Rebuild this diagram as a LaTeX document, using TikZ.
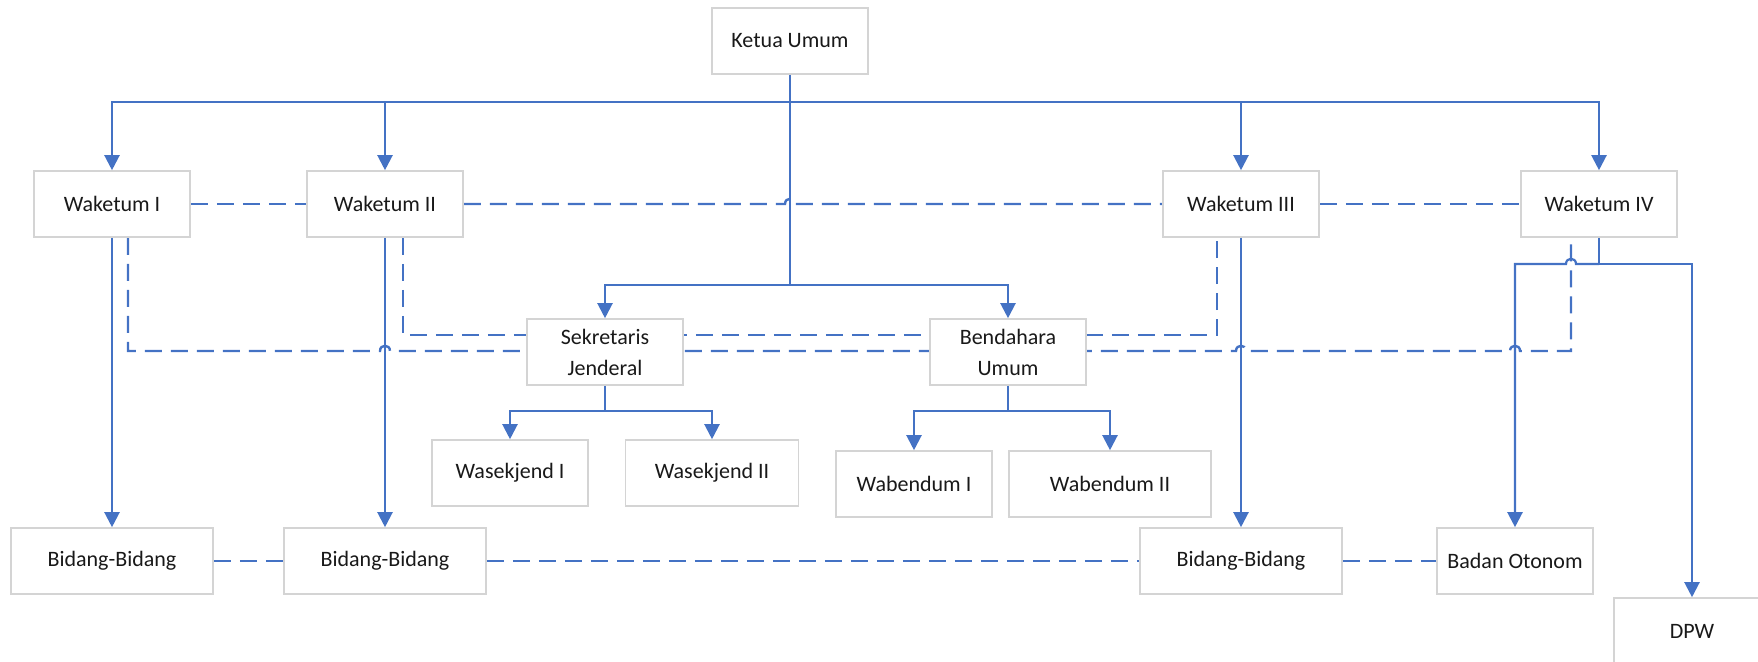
\documentclass[tikz,border=0pt]{standalone}
\usepackage{fontspec}
\setmainfont{Carlito}
\usetikzlibrary{arrows.meta,backgrounds}
\definecolor{orgblue}{HTML}{4472C4}
\definecolor{orggray}{HTML}{D4D4D4}
\tikzset{
  unit/.style={draw=orggray, fill=white, line width=0.8pt, minimum width=78pt, minimum height=33pt,
    inner sep=2pt, align=center, font=\fontsize{11}{15.5}\selectfont, text=black!90},
  wideunit/.style={unit, minimum width=101pt},
  link/.style={orgblue, line width=1.1pt},
  arrowlink/.style={link, -{Triangle[width=7.5pt,length=7.5pt]}},
  dashlink/.style={orgblue, line width=1.2pt, dash pattern=on 8.5pt off 4.5pt},
}
\begin{document}
\begin{tikzpicture}[x=0.5pt,y=-0.5pt]
\useasboundingbox (0,0) rectangle (1758,662);
\clip (0,0) rectangle (1758,662);
% boxes
\node[unit] (ketua) at (790,41) {Ketua Umum};
\node[unit] (wk1) at (112,204) {Waketum I};
\node[unit] (wk2) at (385,204) {Waketum II};
\node[unit] (wk3) at (1241,204) {Waketum III};
\node[unit] (wk4) at (1599,204) {Waketum IV};
\node[unit] (sekjen) at (605,352) {Sekretaris\\Jenderal};
\node[unit] (bendum) at (1008,352) {Bendahara\\Umum};
\node[unit] (wsk1) at (510,473) {Wasekjend I};
\node[unit, minimum width=86.5pt] (wsk2) at (712,473) {Wasekjend II};
\node[unit] (wbd1) at (914,484) {Wabendum I};
\node[wideunit] (wbd2) at (1110,484) {Wabendum II};
\node[wideunit] (bid1) at (112,561) {Bidang-Bidang};
\node[wideunit] (bid2) at (385,561) {Bidang-Bidang};
\node[wideunit] (bid3) at (1241,561) {Bidang-Bidang};
\node[unit] (bo) at (1515,561) {Badan Otonom};
\node[unit] (dpw) at (1692,631) {DPW};

% garis komando
\coordinate (bus) at (790,102);
\coordinate (mid) at (790,285);
\draw[link] (ketua) -- (mid);
\draw[arrowlink] (bus) -| (wk1);
\draw[arrowlink] (bus) -| (wk2);
\draw[arrowlink] (bus) -| (wk3);
\draw[arrowlink] (bus) -| (wk4);
\draw[arrowlink] (mid) -| (sekjen);
\draw[arrowlink] (mid) -| (bendum);
\coordinate (sjbus) at (605,411);
\draw[link] (sekjen) -- (sjbus);
\draw[arrowlink] (sjbus) -| (wsk1);
\draw[arrowlink] (sjbus) -| (wsk2);
\coordinate (bdbus) at (1008,411);
\draw[link] (bendum) -- (bdbus);
\draw[arrowlink] (bdbus) -| (wbd1);
\draw[arrowlink] (bdbus) -| (wbd2);
\draw[arrowlink] (wk1) -- (bid1);
\draw[arrowlink] (wk2) -- (bid2);
\draw[arrowlink] (wk3) -- (bid3);
\coordinate (wk4bus) at (1599,264);
\draw[link] (wk4) -- (wk4bus);
\draw[arrowlink] (wk4bus) -- (1576,264) .. controls +(0,-7) and +(0,-7) .. (1566,264)
  -- (1515,264) -- (bo);
\draw[arrowlink] (wk4bus) -| (dpw);

% garis koordinasi
\begin{scope}[on background layer]
\draw[dashlink] (wk1) -- (wk2);
\draw[dashlink] (wk2) -- (785,204) .. controls +(0,-7) and +(0,-7) .. (795,204) -- (wk3);
\draw[dashlink] (wk3) -- (wk4);
\draw[dashlink] ([xshift=9pt]wk2.south) |- (1217,335) -- ([xshift=-12pt]wk3.south);
\draw[dashlink] ([xshift=8pt]wk1.south) |- (380,351)
  .. controls +(0,-7) and +(0,-7) .. (390,351) -- (1236,351)
  .. controls +(0,-7) and +(0,-7) .. (1246,351) -- (1510,351)
  .. controls +(0,-7) and +(0,-7) .. (1520,351) -- (1571,351) -- ([xshift=-14pt]wk4.south);
\draw[dashlink] (bid1) -- (bid2);
\draw[dashlink] (bid2) -- (bid3);
\draw[dashlink] (bid3) -- (bo);
\end{scope}
\end{tikzpicture}
\end{document}
